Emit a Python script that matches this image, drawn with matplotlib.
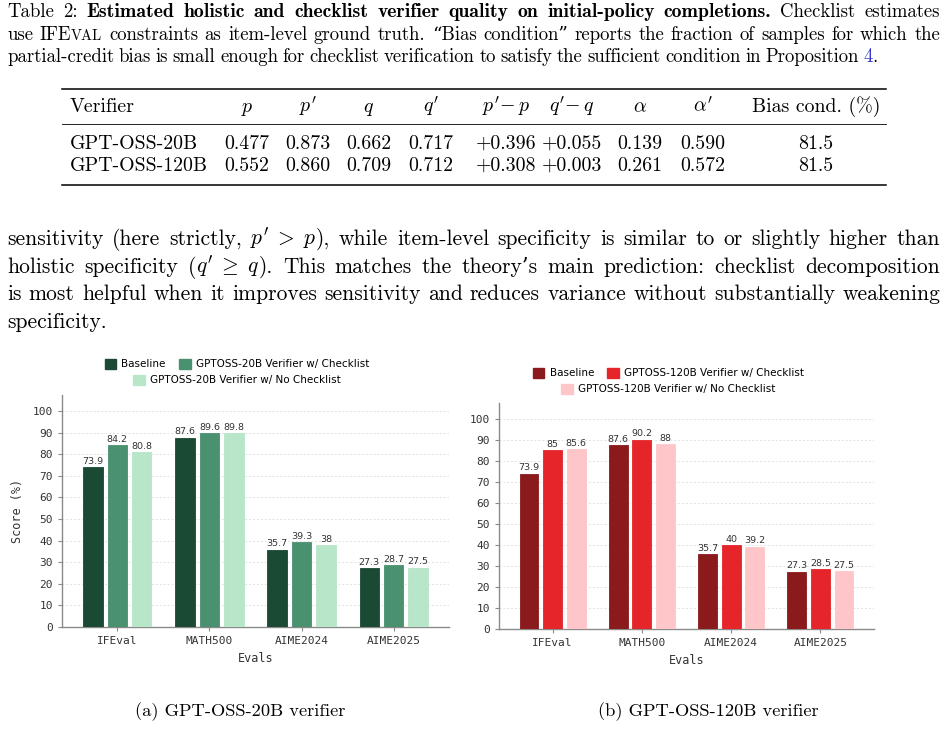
import numpy as np
import matplotlib
matplotlib.use('Agg')
import matplotlib.pyplot as plt
from matplotlib.lines import Line2D
from matplotlib.patches import Patch

plt.rcParams['mathtext.fontset'] = 'cm'
plt.rcParams['axes.unicode_minus'] = False

W, H = 948, 746
fig = plt.figure(figsize=(W / 100, H / 100), dpi=100)
r = fig.canvas.get_renderer()

RM = ['cmr10', 'DejaVu Serif']
BF = ['cmb10', 'DejaVu Serif']

# ---- data ----
evals = ['IFEval', 'MATH500', 'AIME2024', 'AIME2025']
base = [73.9, 87.6, 35.7, 27.3]
ck20 = [84.2, 89.6, 39.3, 28.7]
nock20 = [80.8, 89.8, 38, 27.5]
ck120 = [85, 90.2, 40, 28.5]
nock120 = [85.6, 88, 39.2, 27.5]

tab_head = ['Verifier', '$p$', "$p'$", '$q$', "$q'$", r"$p'\!-p$", r"$q'\!-q$",
            r'$\alpha$', r"$\alpha'$", 'Bias cond. (%)']
tab_rows = [
    ['GPT-OSS-20B', '0.477', '0.873', '0.662', '0.717', '+0.396', '+0.055', '0.139', '0.590', '81.5'],
    ['GPT-OSS-120B', '0.552', '0.860', '0.709', '0.712', '+0.308', '+0.003', '0.261', '0.572', '81.5'],
]


# ---- justified text helper (pixel coords, y from top) ----
def seg(s, fam=RM, size=13, color='black'):
    return (s, dict(family=fam, size=size, color=color))


def line(words, x0, x1, y, justify=True, space=None):
    arts = []
    for word in words:
        parts = []
        for s, kw in word:
            t = fig.text(0, 1 - y / H, s, va='baseline', ha='left', **kw)
            w = t.get_window_extent(r).width
            parts.append((t, w))
        arts.append(parts)
    widths = [sum(w for _, w in p) for p in arts]
    if justify and len(arts) > 1:
        gap = (x1 - x0 - sum(widths)) / (len(arts) - 1)
    else:
        gap = space
    x = x0
    for parts, wd in zip(arts, widths):
        xx = x
        for t, w in parts:
            t.set_x(xx / W)
            xx += w
        x += wd + gap


def words_of(text, fam=RM, size=13):
    return [[seg(w, fam, size)] for w in text.split()]


# ---- caption ----
cs = 13.5
l1 = words_of('Table 2:', RM, cs) + words_of(
    'Estimated holistic and checklist verifier quality on initial-policy completions.', BF, 14.2) + \
    words_of('Checklist estimates', RM, cs)
line(l1, 7, 940, 17)
l2 = [[seg('use', size=cs)], [seg('IFE', size=cs), seg('VAL', size=cs * 0.78)]] + \
    words_of('constraints as item-level ground truth.', RM, cs) + \
    [[seg('\u201cBias', size=cs)], [seg('condition\u201d', size=cs)]] + \
    words_of('reports the fraction of samples for which the', RM, cs)
line(l2, 7, 940, 40)
l3 = words_of('partial-credit bias is small enough for checklist verification to satisfy the '
              'sufficient condition in Proposition', RM, cs) + \
    [[seg('4', size=cs, color='#3636c8'), seg('.', size=cs)]]
line(l3, 7, 940, 62, justify=False, space=4.6)

# ---- table ----
ts = 14.3


def hrule(y, x0, x1, lw):
    fig.add_artist(Line2D([x0 / W, x1 / W], [1 - y / H, 1 - y / H], color='black', lw=lw))


hrule(89, 62, 886, 1.1)
hrule(124, 62, 886, 0.6)
hrule(185, 62, 886, 1.1)
col_x = [70, 247, 308, 369, 431, 506, 572, 640, 703, 816]
for j, h in enumerate(tab_head):
    fig.text(col_x[j] / W, 1 - 112 / H, h, family=RM, size=ts, va='baseline',
             ha='left' if j == 0 else 'center')
for i, row in enumerate(tab_rows):
    yb = 149 + 22 * i
    for j, v in enumerate(row):
        fig.text(col_x[j] / W, 1 - yb / H, v, family=RM, size=ts, va='baseline',
                 ha='left' if j == 0 else 'center')

# ---- body paragraph ----
bs = 15.5
p1 = words_of('sensitivity (here strictly,', RM, bs) + \
    [[seg(r"$p'\;>\;p$", size=bs), seg('),', size=bs)]] + \
    words_of('while item-level specificity is similar to or slightly higher than', RM, bs)
line(p1, 7, 940, 245)
p2 = words_of('holistic specificity', RM, bs) + \
    [[seg('(', size=bs), seg(r"$q'\;\geq\;q$", size=bs), seg(').', size=bs)]] + \
    words_of('This matches the theory\u2019s main prediction: checklist decomposition', RM, bs)
line(p2, 7, 940, 273)
p3 = words_of('is most helpful when it improves sensitivity and reduces variance without '
              'substantially weakening', RM, bs)
line(p3, 7, 940, 300)
line(words_of('specificity.', RM, bs), 7, 940, 328, justify=False, space=5)


# ---- bar charts ----
def bars(rect, ylim, vals, colors, labels, leg_y, ylabel):
    ax = fig.add_axes(rect)
    x = np.arange(len(evals))
    bw = 0.21
    pitch = 0.265
    for k, (v, c) in enumerate(zip(vals, colors)):
        b = ax.bar(x + (k - 1) * pitch, v, bw, color=c, edgecolor=c, lw=0.6,
                   joinstyle='round', zorder=3)
        ax.bar_label(b, labels=[f'{val:g}' for val in v], padding=1, fontsize=6.8,
                     color='#333333', family='DejaVu Sans')
    ax.set_xlim(-0.6, 3.6)
    ax.set_ylim(0, ylim)
    ax.set_yticks(range(0, 101, 10))
    ax.set_xticks(x)
    ax.set_xticklabels(evals)
    for s in ['top', 'right']:
        ax.spines[s].set_visible(False)
    for s in ['left', 'bottom']:
        ax.spines[s].set_color('#8a8a8a')
        ax.spines[s].set_linewidth(1.0)
    ax.tick_params(colors='#8a8a8a', length=3, width=0.8, labelsize=8, labelcolor='#333333')
    for t in ax.get_xticklabels() + ax.get_yticklabels():
        t.set_family('DejaVu Sans Mono')
    ax.yaxis.grid(True, ls=(0, (2, 2)), color='#e2e2e2', lw=0.7, zorder=0)
    ax.set_axisbelow(True)
    ax.set_xlabel('Evals', family='DejaVu Sans Mono', fontsize=8.5, color='#333333', labelpad=4)
    if ylabel:
        ax.set_ylabel(ylabel, family='DejaVu Sans Mono', fontsize=8.5, color='#333333', labelpad=6)
    h = [Patch(color=c) for c in colors]
    lg1 = ax.legend(h[:2], labels[:2], loc='center', bbox_to_anchor=(0.452, leg_y[0]), ncol=2,
                    frameon=False, fontsize=7.5, handlelength=1.1, handleheight=1.1,
                    handletextpad=0.5, columnspacing=1.3, borderaxespad=0, borderpad=0)
    ax.add_artist(lg1)
    ax.legend(h[2:], labels[2:], loc='center', bbox_to_anchor=(0.452, leg_y[1]),
              frameon=False, fontsize=7.5, handlelength=1.1, handleheight=1.1,
              handletextpad=0.5, borderaxespad=0, borderpad=0)
    return ax


greens = ['#1a4a33', '#4a9170', '#b8e6c8']
reds = ['#8a1a1c', '#e6252a', '#ffc6c9']
bars([62 / W, 1 - 627 / H, 387 / W, 232 / H], 107.4, [base, ck20, nock20], greens,
     ['Baseline', 'GPTOSS-20B Verifier w/ Checklist', 'GPTOSS-20B Verifier w/ No Checklist'],
     (1.134, 1.065), 'Score (%)')
bars([499 / W, 1 - 629 / H, 375 / W, 226 / H], 107.6, [base, ck120, nock120], reds,
     ['Baseline', 'GPTOSS-120B Verifier w/ Checklist', 'GPTOSS-120B Verifier w/ No Checklist'],
     (1.133, 1.062), None)

# ---- sub-captions ----
fig.text(240 / W, 1 - 716 / H, '(a) GPT-OSS-20B verifier', family=RM, size=13.3, ha='center', va='baseline')
fig.text(708 / W, 1 - 716 / H, '(b) GPT-OSS-120B verifier', family=RM, size=13.3, ha='center', va='baseline')

fig.savefig('out.png', dpi=100, facecolor='white')
